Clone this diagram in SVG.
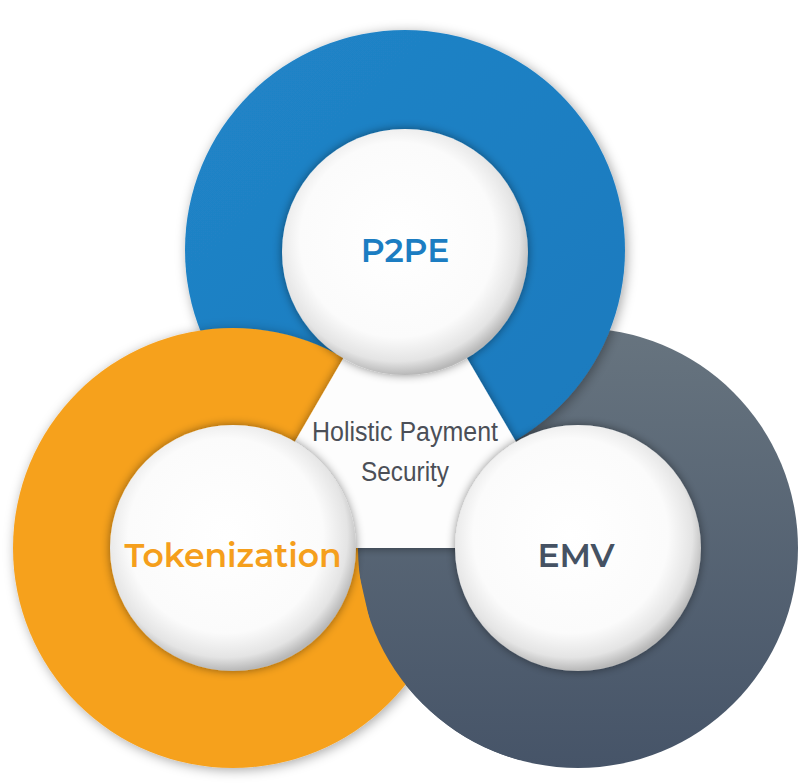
<svg xmlns="http://www.w3.org/2000/svg" width="800" height="783" viewBox="0 0 800 783">
<defs>
<linearGradient id="gg" gradientUnits="userSpaceOnUse" x1="0" y1="328" x2="0" y2="768"><stop offset="0" stop-color="#67747f"/><stop offset="1" stop-color="#465468"/></linearGradient>
<linearGradient id="bg" x1="0" y1="0" x2="1" y2="1"><stop offset="0" stop-color="#2185c8"/><stop offset="1" stop-color="#1a79bd"/></linearGradient>
<radialGradient id="wg" cx="0.47" cy="0.45" r="0.55"><stop offset="0" stop-color="#ffffff"/><stop offset="0.72" stop-color="#fbfbfb"/><stop offset="0.9" stop-color="#e4e4e4"/><stop offset="1" stop-color="#b8b8b8"/></radialGradient>
<filter id="sh" x="-20%" y="-20%" width="140%" height="140%"><feDropShadow dx="0" dy="0" stdDeviation="5" flood-color="#000" flood-opacity="0.45"/></filter>
<filter id="sh2" x="-20%" y="-20%" width="140%" height="140%"><feDropShadow dx="2" dy="2" stdDeviation="6" flood-color="#000" flood-opacity="0.35"/></filter>
<clipPath id="bot"><path d="M356,540 L520,540 L520,783 L410,783 Q378,660 356,560 Z"/></clipPath>
<style>
.lbl{font-family:"Montserrat","Open Sans","Liberation Sans",sans-serif;font-weight:600;font-size:33px;text-anchor:middle}
.mid{font-family:"Liberation Sans",sans-serif;font-size:27px;fill:#4b4f57;text-anchor:middle}
</style>
</defs>
<g id="rings">
<circle id="emv-ring" cx="578" cy="548" r="220" fill="url(#gg)"/>
<circle id="p2pe-ring" cx="405" cy="250" r="220" fill="url(#bg)" filter="url(#sh2)"/>
<circle id="tok-ring" cx="233" cy="548" r="220" fill="#f6a11e" filter="url(#sh2)"/>
<g clip-path="url(#bot)"><circle cx="578" cy="548" r="220" fill="url(#gg)"/></g>
</g>
<g id="center">
<polygon points="405,252 233,548 578,548" fill="#fdfdfd" filter="url(#sh)"/>
<text class="mid" x="405" y="441" textLength="186" lengthAdjust="spacingAndGlyphs">Holistic Payment</text>
<text class="mid" x="405" y="481" textLength="88" lengthAdjust="spacingAndGlyphs">Security</text>
</g>
<g id="p2pe">
<circle cx="405" cy="252" r="123" fill="url(#wg)" filter="url(#sh)"/>
<text class="lbl" x="405" y="262" fill="#1c7dc2">P2PE</text>
</g>
<g id="tokenization">
<circle cx="233" cy="548" r="123" fill="url(#wg)" filter="url(#sh)"/>
<text class="lbl" x="233" y="567" fill="#f59f1c">Tokenization</text>
</g>
<g id="emv">
<circle cx="578" cy="548" r="123" fill="url(#wg)" filter="url(#sh)"/>
<text class="lbl" x="576" y="567" fill="#455263">EMV</text>
</g>
</svg>
